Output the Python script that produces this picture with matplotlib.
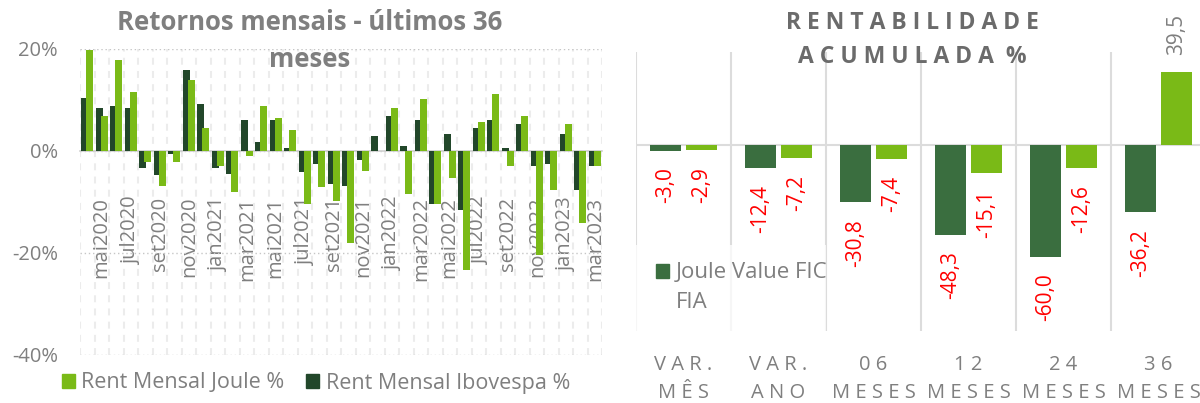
import matplotlib.pyplot as plt
import matplotlib.patches as mpatches
import numpy as np

plt.rcParams['font.family'] = ['Open Sans', 'DejaVu Sans']
plt.rcParams['lines.scale_dashes'] = False

# monthly returns, abr2020 .. mar2023 (%)
ibov_mensal = [10.4, 8.5, 8.9, 8.5, -3.3, -4.8, -0.5, 15.9, 9.3, -3.3, -4.5, 6.1,
               1.8, 6.1, 0.6, -4.1, -2.5, -6.4, -6.8, -1.7, 3.0, 6.9, 1.0, 6.1,
               -10.4, 3.4, -11.6, 4.5, 6.1, 0.6, 5.3, -2.9, -2.5, 3.4, -7.6, -2.9]
joule_mensal = [19.9, 6.9, 17.9, 11.6, -2.1, -6.8, -2.1, 14.0, 4.5, -2.9, -8.0, -0.9,
                8.9, 6.5, 4.1, -10.4, -7.1, -9.9, -18.1, -4.0, 0.0, 8.5, -8.4, 10.1,
                -10.4, -5.3, -23.4, 5.7, 11.2, -2.9, 6.9, -20.3, -7.6, 5.3, -14.2, -2.9]
mes_labels = ['mai2020', 'jul2020', 'set2020', 'nov2020', 'jan2021', 'mar2021',
              'mai2021', 'jul2021', 'set2021', 'nov2021', 'jan2022', 'mar2022',
              'mai2022', 'jul2022', 'set2022', 'nov2022', 'jan2023', 'mar2023']

# accumulated returns (%)
periodos = ['V A R .\nM Ê S', 'V A R .\nA N O', '0 6\nM E S E S',
            '1 2\nM E S E S', '2 4\nM E S E S', '3 6\nM E S E S']
joule_acum = [-3.0, -12.4, -30.8, -48.3, -60.0, -36.2]
ibov_acum = [-2.9, -7.2, -7.4, -15.1, -12.6, 39.5]

gray = '#7f7f7f'
light = '#7aba17'
dark_l = '#22472a'
dark_r = '#3a6e3f'

fig = plt.figure(figsize=(12, 4.03), dpi=100)

# ---- left chart
ax1 = fig.add_axes([80/1200, 1-355/403, 522/1200, 306/403])
x = np.arange(len(joule_mensal))
ax1.bar(x - 0.17, ibov_mensal, width=0.5, color=dark_l, zorder=3)
ax1.bar(x + 0.17, joule_mensal, width=0.5, color=light, zorder=4)
for i in range(len(x) + 1):
    ax1.axvline(i - 0.5, color='#ececec', lw=1.5, dashes=(5, 4.5), zorder=1)
ax1.set_xlim(-0.5, len(x) - 0.5)
ax1.set_ylim(-40, 20)
ax1.set_yticks([20, 0, -20, -40])
ax1.set_yticklabels(['20%', '0%', '-20%', '-40%'])
ax1.yaxis.grid(True, color='#c6c6c6', lw=1, linestyle=(0, (1, 2)), zorder=0)
ax1.set_xticks(x[1::2])
ax1.set_xticklabels(mes_labels)
for s in ['top', 'right', 'left']:
    ax1.spines[s].set_visible(False)
ax1.spines['bottom'].set_position(('data', 0))
ax1.spines['bottom'].set_color('#d0d0d0')
ax1.spines['bottom'].set_linewidth(1.2)
ax1.spines['bottom'].set_zorder(2)
ax1.tick_params(axis='x', length=0, pad=33, labelrotation=90, labelsize=14.5, labelcolor=gray)
ax1.tick_params(axis='y', length=0, pad=16, labelsize=14.5, labelcolor=gray)

fig.text(310/1200, 1-41/403, 'Retornos mensais - últimos 36\nmeses', ha='center', va='center',
         fontsize=18.5, fontweight='bold', color=gray, linespacing=1.5)

h1 = mpatches.Patch(color=light, label='Rent Mensal Joule %')
h2 = mpatches.Patch(color=dark_l, label='Rent Mensal Ibovespa %')
fig.legend(handles=[h1, h2], loc='center', bbox_to_anchor=(316/1200, 1-383/403), ncol=2,
           frameon=False, fontsize=15.5, labelcolor=gray, handlelength=0.6, handleheight=0.6,
           handletextpad=0.3, columnspacing=1.0)

# ---- right chart
ax2 = fig.add_axes([636/1200, 1-331/403, 570/1200, 279/403])
p = np.arange(len(periodos))
ax2.bar(p - 0.19, joule_acum, width=0.32, color=dark_r, zorder=3)
ax2.bar(p + 0.19, ibov_acum, width=0.32, color=light, zorder=3)
for k in range(len(p) + 1):
    ax2.axvline(k - 0.5, color='#dcdcdc', lw=1.5, zorder=1)
ax2.axhline(0, color='#dcdcdc', lw=1.5, zorder=1)
ax2.set_xlim(-0.5, len(p) - 0.5)
ax2.set_ylim(-100, 50)
ax2.set_yticks([])
ax2.set_xticks(p)
ax2.set_xticklabels(periodos)
ax2.tick_params(axis='x', length=0, pad=17, labelsize=14.5, labelcolor=gray)
for lbl in ax2.get_xticklabels():
    lbl.set_linespacing(1.55)
for s in ax2.spines.values():
    s.set_visible(False)

for xs, vals in [(p - 0.19, joule_acum), (p + 0.19, ibov_acum)]:
    for xi, v in zip(xs, vals):
        txt = f'{v:.1f}'.replace('.', ',')
        if v < 0:
            ax2.annotate(txt, (xi, v), xytext=(0, -12), textcoords='offset points',
                         rotation=90, ha='center', va='top', fontsize=15, color='#ff0000')
        else:
            ax2.annotate(txt, (xi, v), xytext=(0, 12), textcoords='offset points',
                         rotation=90, ha='center', va='bottom', fontsize=15, color=gray)

fig.text(912/1200, 1-40/403, 'R E N T A B I L I D A D E\nA C U M U L A D A  %', ha='center',
         va='center', fontsize=16.5, fontweight='bold', color='#6b6b6b', linespacing=1.6)

# legend box (semi transparent, covers gridlines)
fig.patches.append(mpatches.Rectangle((636/1200, 1-335/403), 190/1200, 90/403,
                                      transform=fig.transFigure, facecolor='white',
                                      alpha=0.75, edgecolor='none', zorder=5))
h3 = mpatches.Patch(color=dark_r, label='Joule Value FIC')
fig.legend(handles=[h3], loc='center left', bbox_to_anchor=(645/1200, 1-273/403),
           frameon=False, fontsize=16, labelcolor=gray, handlelength=0.6, handleheight=0.6,
           handletextpad=0.3, borderpad=0.0)
fig.text(676/1200, 1-303/403, 'FIA', ha='left', va='center', fontsize=16, color=gray, zorder=6)

fig.savefig('out.png', dpi=100)
